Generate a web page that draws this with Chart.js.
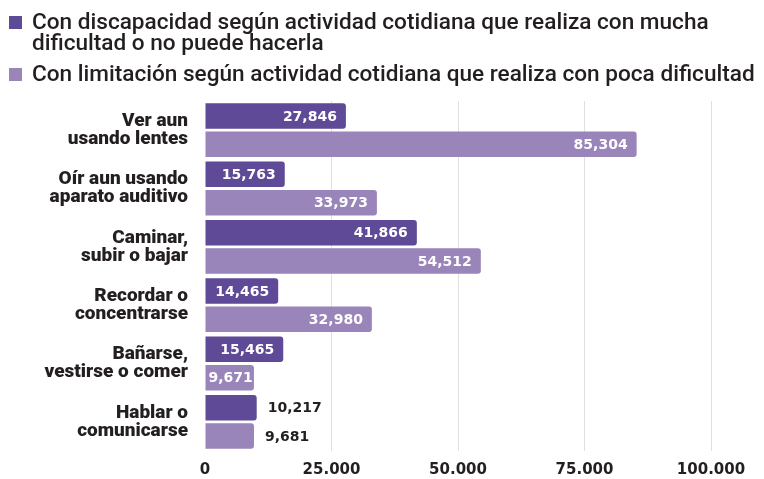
<!DOCTYPE html>
<html>
<head>
<meta charset="utf-8">
<script src="https://cdn.jsdelivr.net/npm/chart.js@4"></script>
<style>
  html, body { margin: 0; padding: 0; background: #fff; overflow: hidden; }
  #wrap { position: relative; width: 764px; height: 479px; }
  #legend { position: absolute; left: 9px; top: 11px; width: 755px; font-family: Roboto, 'Liberation Sans', sans-serif; font-weight: 500; font-size: 22.6px; line-height: 21px; color: #231f20; }
  .item { position: relative; padding-left: 23px; margin-bottom: 10px; }
  .item:last-child { white-space: nowrap; }
  .box { position: absolute; left: 0; top: 5px; width: 13px; height: 13px; }
</style>
</head>
<body>
<div id="wrap">
  <canvas id="chart" width="764" height="479"></canvas>
  <div id="legend"></div>
</div>
<script>
const categories = [
  ['Ver aun', 'usando lentes'],
  ['Oír aun usando', 'aparato auditivo'],
  ['Caminar,', 'subir o bajar'],
  ['Recordar o', 'concentrarse'],
  ['Bañarse,', 'vestirse o comer'],
  ['Hablar o', 'comunicarse'],
]
const seriesNames = [
  'Con discapacidad según actividad cotidiana que realiza con mucha dificultad o no puede hacerla',
  'Con limitación según actividad cotidiana que realiza con poca dificultad',
]
const discapacidad = [27846, 15763, 41866, 14465, 15465, 10217]
const limitacion = [85304, 33973, 54512, 32980, 9671, 9681]
const xTicks = [0, 25000, 50000, 75000, 100000]

const colors = ['#5f4a97', '#9a85bb']
const ink = '#231f20'

// legend as html so the first item can wrap
const legendEl = document.getElementById('legend')
seriesNames.forEach((name, i) => {
  const d = document.createElement('div')
  d.className = 'item'
  d.innerHTML = `<span class="box" style="background:${colors[i]}"></span>${name}`
  legendEl.appendChild(d)
})

const valueLabels = {
  id: 'valueLabels',
  afterDatasetsDraw (chart) {
    const ctx = chart.ctx
    ctx.save()
    ctx.font = 'bold 14px "DejaVu Sans"'
    ctx.textBaseline = 'middle'
    chart.data.datasets.forEach((ds, di) => {
      chart.getDatasetMeta(di).data.forEach((bar, i) => {
        const txt = ds.data[i].toLocaleString('en-US')
        // last category has its labels outside the bar
        if (i === categories.length - 1) {
          ctx.fillStyle = ink
          ctx.textAlign = 'left'
          ctx.fillText(txt, bar.x + 11, bar.y + 1)
        } else {
          const room = bar.x - bar.base - ctx.measureText(txt).width
          const pad = Math.min(9, Math.max(1, room - 3))
          ctx.fillStyle = '#fff'
          ctx.textAlign = 'right'
          ctx.fillText(txt, bar.x - pad, bar.y + 1)
        }
      })
    })
    ctx.restore()
  },
}

new Chart(document.getElementById('chart'), {
  type: 'bar',
  data: {
    labels: categories,
    datasets: [
      { label: seriesNames[0], data: discapacidad, backgroundColor: colors[0] },
      { label: seriesNames[1], data: limitacion, backgroundColor: colors[1] },
    ],
  },
  options: {
    indexAxis: 'y',
    responsive: false,
    animation: false,
    categoryPercentage: 0.97,
    barPercentage: 0.9,
    borderRadius: 3,
    borderSkipped: 'start',
    layout: { padding: { top: 101, right: 53, left: 0, bottom: 0 } },
    plugins: { legend: { display: false }, tooltip: { enabled: false } },
    scales: {
      x: {
        min: 0,
        max: 100000,
        afterBuildTicks: (s) => { s.ticks = xTicks.map(v => ({ value: v })) },
        afterFit: (s) => { s.height = 28 },
        border: { display: false },
        grid: {
          color: (c) => c.tick && c.tick.value === 0 ? 'rgba(0,0,0,0)' : '#e0e0e0',
          drawTicks: false,
        },
        ticks: {
          color: ink,
          font: { family: 'DejaVu Sans', weight: 'bold', size: 15 },
          padding: 10,
          maxRotation: 0,
          callback: (v) => v.toLocaleString('de-DE'),
        },
      },
      y: {
        afterFit: (s) => {
          s.width = 205
          s.paddingTop = 0
          s.paddingBottom = 0
        },
        border: { display: false },
        grid: { display: false, drawTicks: false },
        ticks: {
          color: ink,
          font: { family: 'Roboto', weight: '900', size: 19, lineHeight: '18px' },
          padding: 17,
        },
      },
    },
  },
  plugins: [valueLabels],
})
</script>
</body>
</html>
